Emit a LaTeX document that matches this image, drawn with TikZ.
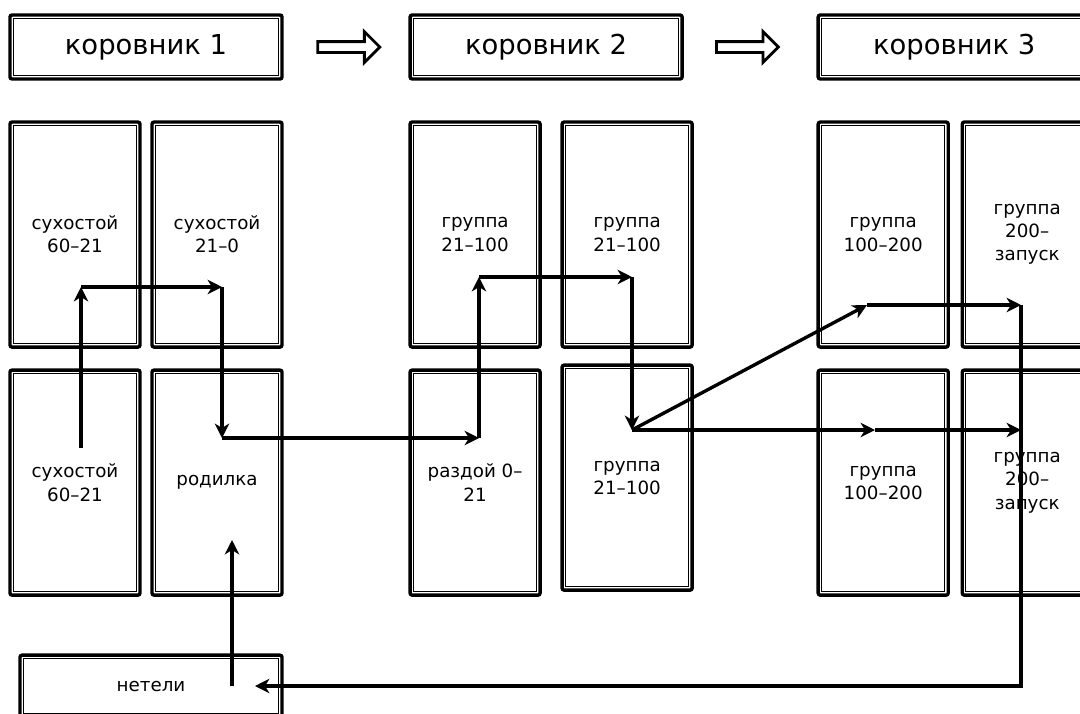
\documentclass[tikz,border=0pt]{standalone}
\usepackage{fontspec}
\setmainfont{DejaVu Sans}
\usetikzlibrary{arrows.meta,positioning,shapes.arrows,calc}

\begin{document}
\begin{tikzpicture}[x=0.025cm,y=-0.025cm,
  barn/.style={draw,line width=2.4pt,rounded corners=1.5pt,outer sep=0pt,minimum width=6.8cm,minimum height=1.6cm,font=\fontsize{19.5}{22}\selectfont},
  stall/.style={draw,line width=2.4pt,rounded corners=1.5pt,outer sep=0pt,minimum width=3.25cm,minimum height=5.625cm,align=center,font=\fontsize{13}{16.5}\selectfont},
  flow/.style={-{Stealth[length=3.6mm,width=3.6mm,inset=1.1mm]},line width=2.4pt},
  hollow/.style={single arrow,draw,line width=2pt,inner sep=0pt,minimum height=1.55cm,single arrow head extend=0.25cm,text height=0.2cm,text depth=0pt,text width=0pt}
]
\useasboundingbox (0,0) rectangle (1080,713);
\node[barn] (k1) at (146,47) {коровник 1};
\node[barn,right=3.2cm of k1] (k2) {коровник 2};
\node[barn,right=3.4cm of k2] (k3) {коровник 3};
\node[hollow] (a1) at ($(k1.east)!0.5!(k2.west)$) {};
\node[hollow] (a2) at ($(k2.east)!0.46!(k3.west)$) {};
\node[stall,below right=1.075cm and 0cm of k1.south west] (s1) {сухостой\\60–21};
\node[stall,right=0.3cm of s1] (s2) {сухостой\\21–0};
\node[stall,below=0.575cm of s1] (s3) {сухостой\\60–21};
\node[stall,below=0.575cm of s2] (rod) {родилка};
\node[stall,right=3.2cm of s2] (g1) {группа\\21–100};
\node[stall,right=0.55cm of g1] (g2) {группа\\21–100};
\node[stall,below=0.575cm of g1] (razd) {раздой 0–\\21};
\node[stall,below=0.45cm of g2] (g3) {группа\\21–100};
\node[stall,right=3.15cm of g2] (g4) {группа\\100–200};
\node[stall,right=0.35cm of g4] (g5) {группа\\200–\\запуск};
\node[stall,below=0.575cm of g4] (g6) {группа\\100–200};
\node[stall,below=0.575cm of g5] (g7) {группа\\200–\\запуск};
\node[barn,minimum width=6.55cm,minimum height=1.55cm,font=\fontsize{13}{16}\selectfont,below right=1.5cm and 0.25cm of s3.south west] (net) {нетели};
% thin inner line of every box
\foreach \n in {k1,k2,k3,s1,s2,s3,rod,g1,g2,razd,g3,g4,g5,g6,g7,net}
  \draw[line width=0.8pt] ([shift={(2.5pt,-2.5pt)}]\n.north west) rectangle ([shift={(-2.5pt,2.5pt)}]\n.south east);
% route points
\coordinate (t1) at (81,448);
\coordinate (t2) at (81,287);
\coordinate (t3) at (222,287);
\coordinate (t4) at (222,438);
\coordinate (t5) at (479,438);
\coordinate (t6) at (479,277);
\coordinate (t7) at (632,277);
\coordinate (t8) at (632,430);
\coordinate (t9) at (867,305);
\coordinate (t10) at (1021,305);
\coordinate (t11) at (875,430);
\coordinate (t12) at (1021,430);
\coordinate (t13) at (1021,686);
\coordinate (t14) at (255,686);
\coordinate (t15) at (232,686);
\coordinate (t16) at (232,540);
\draw[flow] (t1) -- (t2);
\draw[flow] (t2) -- (t3);
\draw[flow] (t3) -- (t4);
\draw[flow] (t4) -- (t5);
\draw[flow] (t5) -- (t6);
\draw[flow] (t6) -- (t7);
\draw[flow] (t7) -- (t8);
\draw[flow] (t8) -- (t9);
\draw[flow] (t9) -- (t10);
\draw[flow] (t8) -- (t11);
\draw[flow] (t11) -- (t12);
\draw[flow] (t10) -- (t13) -- (t14);
\draw[flow] (t15) -- (t16);
\end{tikzpicture}
\end{document}
